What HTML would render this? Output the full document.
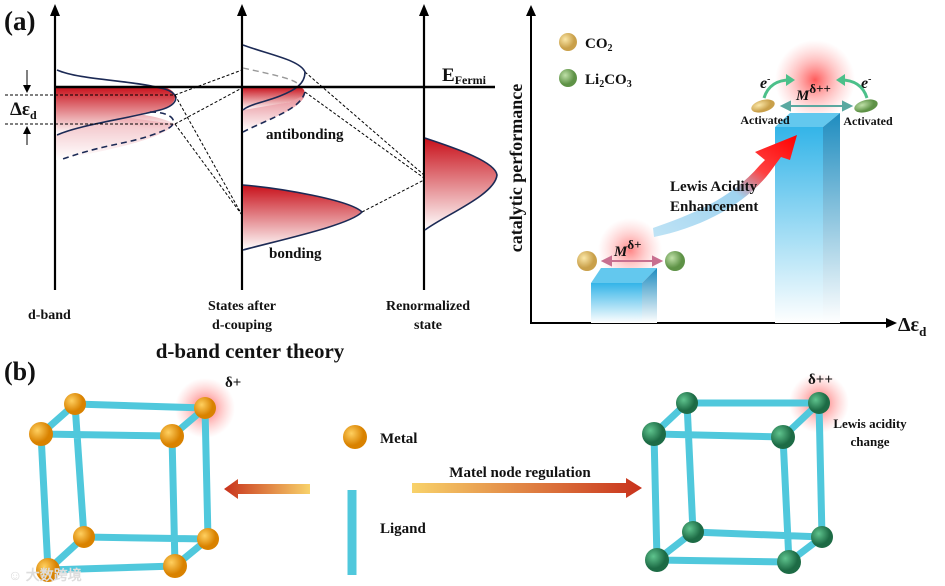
<!DOCTYPE html>
<html><head><meta charset="utf-8"><style>
html,body{margin:0;padding:0;background:#fff}
svg{display:block}
text{font-family:"Liberation Serif",serif;font-weight:bold;fill:#111}
</style></head><body>
<svg width="945" height="586" viewBox="0 0 945 586" xmlns="http://www.w3.org/2000/svg">
<defs>
<linearGradient id="rd" x1="0" y1="0" x2="0" y2="1"><stop offset="0" stop-color="#c8101a"/><stop offset="1" stop-color="#fff"/></linearGradient>
<linearGradient id="rd2" x1="0" y1="0" x2="0" y2="1"><stop offset="0" stop-color="#e78c95"/><stop offset="1" stop-color="#fff"/></linearGradient>
<linearGradient id="bl" x1="0" y1="0" x2="0" y2="1"><stop offset="0" stop-color="#33b4e8"/><stop offset="1" stop-color="#fff"/></linearGradient>
<linearGradient id="bls" x1="0" y1="0" x2="0" y2="1"><stop offset="0" stop-color="#1e8cbf"/><stop offset="1" stop-color="#fff"/></linearGradient>
<radialGradient id="glow"><stop offset="0" stop-color="#ff1a1a" stop-opacity="0.9"/><stop offset="0.5" stop-color="#ff5555" stop-opacity="0.45"/><stop offset="1" stop-color="#ff8080" stop-opacity="0"/></radialGradient>
<radialGradient id="gy" cx="0.35" cy="0.35"><stop offset="0" stop-color="#fbe7a8"/><stop offset="1" stop-color="#c9a04a"/></radialGradient>
<radialGradient id="gg" cx="0.35" cy="0.35"><stop offset="0" stop-color="#bfe0a8"/><stop offset="1" stop-color="#5e9246"/></radialGradient>
<radialGradient id="go" cx="0.35" cy="0.35"><stop offset="0" stop-color="#ffd060"/><stop offset="1" stop-color="#d98200"/></radialGradient>
<radialGradient id="gt" cx="0.35" cy="0.35"><stop offset="0" stop-color="#5fc48e"/><stop offset="1" stop-color="#1d6b45"/></radialGradient>
<linearGradient id="arL" x1="1" y1="0" x2="0" y2="0"><stop offset="0" stop-color="#f8d26a"/><stop offset="1" stop-color="#c8321c"/></linearGradient>
<linearGradient id="arR" x1="0" y1="0" x2="1" y2="0"><stop offset="0" stop-color="#f8d26a"/><stop offset="1" stop-color="#c8321c"/></linearGradient>
<linearGradient id="la" x1="0" y1="1" x2="1" y2="0"><stop offset="0" stop-color="#bfe3f5"/><stop offset="0.5" stop-color="#9fd3f0"/><stop offset="0.7" stop-color="#ff4040"/><stop offset="1" stop-color="#ff0000"/></linearGradient>
<marker id="ah" markerWidth="8" markerHeight="8" refX="7" refY="4" orient="auto"><path d="M0,0 L8,4 L0,8 Z" fill="#000"/></marker>
</defs>

<text x="4" y="30" font-size="27">(a)</text>
<g stroke="#000" stroke-width="2.2" fill="none">
<line x1="55" y1="290" x2="55" y2="14"/><line x1="242" y1="290" x2="242" y2="14"/><line x1="424" y1="290" x2="424" y2="14"/>
</g>
<g fill="#000"><path d="M50,16 L55,4 L60,16Z"/><path d="M237,16 L242,4 L247,16Z"/><path d="M419,16 L424,4 L429,16Z"/></g>

<path d="M56,108 C100,110 150,140 175,124 C150,112 130,114 56,108Z" fill="url(#rd2)"/>
<path d="M56,108 L56,160 C110,150 160,140 175,124" fill="url(#rd2)" opacity="0.7"/>
<path d="M56,87 L160,87 C180,88 180,105 160,110 C120,118 80,125 56,135Z" fill="url(#rd)"/>
<path d="M57,70 C80,80 130,80 160,88 C182,92 180,105 160,110 C120,120 80,125 57,135" stroke="#1c2a55" stroke-width="1.6" fill="none"/>
<path d="M150,112 C175,112 180,124 165,130 C130,145 110,142 60,160" stroke="#1c2a55" stroke-width="1.6" stroke-dasharray="6,4" fill="none"/>
<g stroke="#000" stroke-width="1" stroke-dasharray="3,2">
<line x1="5" y1="95" x2="175" y2="95"/><line x1="5" y1="124" x2="175" y2="124"/>
<line x1="175" y1="95" x2="242" y2="70"/><line x1="175" y1="124" x2="242" y2="88"/>
<line x1="175" y1="95" x2="242" y2="215"/><line x1="175" y1="124" x2="242" y2="215"/>
<line x1="305" y1="72" x2="424" y2="175"/><line x1="305" y1="92" x2="424" y2="178"/>
<line x1="362" y1="212" x2="424" y2="180"/>
</g>
<line x1="27" y1="70" x2="27" y2="92" stroke="#000" stroke-width="1" marker-end="url(#ah)"/>
<line x1="27" y1="145" x2="27" y2="127" stroke="#000" stroke-width="1" marker-end="url(#ah)"/>
<text x="10" y="115" font-size="19" font-weight="normal">Δε<tspan font-size="12" dy="4" font-weight="bold">d</tspan></text>

<path d="M243,87 L300,87 C308,90 306,98 290,102 C270,106 255,108 243,110Z" fill="url(#rd)"/>
<path d="M243,110 L243,132 C270,118 300,110 305,95 L290,102Z" fill="url(#rd2)"/>
<path d="M243,45 C270,55 300,60 305,72 C305,84 295,90 280,96 C265,102 250,104 243,110" stroke="#1c2a55" stroke-width="1.6" fill="none"/>
<path d="M305,92 C300,110 270,118 243,132" stroke="#1c2a55" stroke-width="1.6" stroke-dasharray="6,4" fill="none"/>
<path d="M243,68 C270,74 290,78 297,83" stroke="#999" stroke-width="1.4" stroke-dasharray="6,4" fill="none"/>
<text x="266" y="139" font-size="15">antibonding</text>

<path d="M243,185 C280,188 350,200 362,212 C350,225 280,240 243,250Z" fill="url(#rd)"/>
<path d="M243,185 C280,188 350,200 362,212 C350,225 280,240 243,250" stroke="#1c2a55" stroke-width="1.6" fill="none"/>
<text x="269" y="258" font-size="15">bonding</text>

<path d="M425,138 C445,145 495,160 497,175 C495,195 445,215 425,230Z" fill="url(#rd)"/>
<path d="M425,138 C445,145 495,160 497,175 C495,195 445,215 425,230" stroke="#1c2a55" stroke-width="1.6" fill="none"/>

<line x1="55" y1="87" x2="495" y2="87" stroke="#000" stroke-width="2.5"/>
<text x="442" y="81" font-size="19">E<tspan font-size="12" dy="3">Fermi</tspan></text>

<text x="28" y="319" font-size="14">d-band</text>
<text x="242" y="310" font-size="14" text-anchor="middle">States after</text>
<text x="242" y="329" font-size="14" text-anchor="middle">d-couping</text>
<text x="428" y="310" font-size="14" text-anchor="middle">Renormalized</text>
<text x="428" y="329" font-size="14" text-anchor="middle">state</text>
<text x="250" y="358" font-size="21" text-anchor="middle">d-band center  theory</text>

<line x1="531" y1="324" x2="531" y2="14" stroke="#000" stroke-width="2"/>
<path d="M526,16 L531,5 L536,16Z"/>
<line x1="531" y1="323" x2="888" y2="323" stroke="#000" stroke-width="2"/>
<path d="M886,318 L897,323 L886,328Z"/>
<text x="898" y="331" font-size="20" font-weight="normal">Δε<tspan font-size="13" dy="5" font-weight="bold">d</tspan></text>
<text transform="translate(522,168) rotate(-90)" font-size="18" text-anchor="middle">catalytic performance</text>

<circle cx="568" cy="42" r="9" fill="url(#gy)"/>
<text x="585" y="48" font-size="15">CO<tspan font-size="10" dy="3">2</tspan></text>
<circle cx="568" cy="78" r="9" fill="url(#gg)"/>
<text x="585" y="84" font-size="15">Li<tspan font-size="10" dy="3">2</tspan><tspan dy="-3">CO</tspan><tspan font-size="10" dy="3">3</tspan></text>

<circle cx="630" cy="250" r="32" fill="url(#glow)" opacity="0.6"/>
<path d="M591,283 L601,268 L657,268 L642,283Z" fill="#63c8ee"/>
<rect x="591" y="283" width="51" height="40" fill="url(#bl)"/>
<path d="M642,283 L657,268 L657,323 L642,323Z" fill="url(#bls)"/>
<circle cx="587" cy="261" r="10" fill="url(#gy)"/>
<circle cx="675" cy="261" r="10" fill="url(#gg)"/>
<g stroke="#c87090" stroke-width="2" fill="#c87090"><line x1="606" y1="261" x2="657" y2="261"/><path d="M603,261 L611,257 L611,265Z"/><path d="M661,261 L653,257 L653,265Z"/></g>
<text x="614" y="256" font-size="15" font-style="italic">M<tspan font-size="13" dy="-7" font-style="normal">δ+</tspan></text>

<circle cx="815" cy="80" r="40" fill="url(#glow)" opacity="0.8"/>
<path d="M775,127 L790,113 L840,113 L823,127Z" fill="#63c8ee"/>
<rect x="775" y="127" width="48" height="196" fill="url(#bl)"/>
<path d="M823,127 L840,113 L840,323 L823,323Z" fill="url(#bls)"/>
<ellipse cx="763" cy="106" rx="12" ry="6" fill="url(#gy)" transform="rotate(-15 763 106)"/>
<ellipse cx="866" cy="106" rx="12" ry="6" fill="url(#gg)" transform="rotate(-15 866 106)"/>
<g stroke="#5aa8a0" stroke-width="2" fill="#5aa8a0"><line x1="786" y1="106" x2="847" y2="106"/><path d="M782,106 L790,102 L790,110Z"/><path d="M851,106 L843,102 L843,110Z"/></g>
<text x="796" y="100" font-size="15" font-style="italic">M<tspan font-size="13" dy="-7" font-style="normal">δ++</tspan></text>
<text x="765" y="124" font-size="12" text-anchor="middle">Activated</text>
<text x="868" y="125" font-size="12" text-anchor="middle">Activated</text>
<text x="760" y="88" font-size="16" font-style="italic">e<tspan font-size="10" dy="-6">-</tspan></text>
<text x="861" y="88" font-size="16" font-style="italic">e<tspan font-size="10" dy="-6">-</tspan></text>
<path d="M764,98 C768,85 778,80 790,80" stroke="#4cc08a" stroke-width="3" fill="none"/><path d="M786,74 L795,80 L786,86Z" fill="#4cc08a"/>
<path d="M867,98 C863,85 853,80 841,80" stroke="#4cc08a" stroke-width="3" fill="none"/><path d="M845,74 L836,80 L845,86Z" fill="#4cc08a"/>

<path d="M653,228 C690,215 730,200 760,165 L765,160 L755,152 L797,135 L790,160 L781,157 L770,172 C745,205 700,228 654,237Z" fill="url(#la)"/>
<text x="670" y="191" font-size="15">Lewis Acidity</text>
<text x="670" y="211" font-size="15">Enhancement</text>

<text x="4" y="380" font-size="26">(b)</text>
<circle cx="205" cy="408" r="30" fill="url(#glow)" opacity="0.8"/>
<circle cx="819" cy="403" r="30" fill="url(#glow)" opacity="0.8"/>
<g stroke="#50c8dc" stroke-width="7" stroke-linecap="round" fill="none">
<path d="M75,404 L205,408 L172,436 L41,434 Z M75,404 L84,537 M205,408 L208,539 M172,436 L175,566 M41,434 L48,570 M84,537 L208,539 L175,566 L48,570 Z"/>
<path d="M687,403 L819,403 L783,437 L654,434 Z M687,403 L693,532 M819,403 L822,537 M783,437 L789,562 M654,434 L657,560 M693,532 L822,537 L789,562 L657,560 Z"/>
<line x1="352" y1="490" x2="352" y2="575" stroke-width="9" stroke-linecap="butt"/>
</g>
<g fill="url(#go)"><circle cx="75" cy="404" r="11"/><circle cx="205" cy="408" r="11"/><circle cx="41" cy="434" r="12"/><circle cx="172" cy="436" r="12"/><circle cx="84" cy="537" r="11"/><circle cx="208" cy="539" r="11"/><circle cx="48" cy="570" r="12"/><circle cx="175" cy="566" r="12"/><circle cx="355" cy="437" r="12"/></g>
<g fill="url(#gt)"><circle cx="687" cy="403" r="11"/><circle cx="819" cy="403" r="11"/><circle cx="654" cy="434" r="12"/><circle cx="783" cy="437" r="12"/><circle cx="693" cy="532" r="11"/><circle cx="822" cy="537" r="11"/><circle cx="657" cy="560" r="12"/><circle cx="789" cy="562" r="12"/></g>
<text x="225" y="387" font-size="15" font-weight="normal">δ+</text>
<text x="808" y="384" font-size="15" font-weight="normal">δ++</text>
<text x="870" y="428" font-size="13" text-anchor="middle">Lewis acidity</text>
<text x="870" y="446" font-size="13" text-anchor="middle">change</text>
<text x="380" y="443" font-size="15">Metal</text>
<text x="380" y="533" font-size="15">Ligand</text>
<path d="M310,484 L238,484 L238,479 L224,489 L238,499 L238,494 L310,494Z" fill="url(#arL)"/>
<path d="M412,483 L626,483 L626,478 L642,488 L626,498 L626,493 L412,493Z" fill="url(#arR)"/>
<text x="520" y="477" font-size="15" text-anchor="middle">Matel node regulation</text>
<text x="8" y="580" font-size="14" font-weight="normal" style="fill:#ddd" font-family="Noto Sans CJK SC, sans-serif">☺ 大数跨境</text>
</svg>
</body></html>
